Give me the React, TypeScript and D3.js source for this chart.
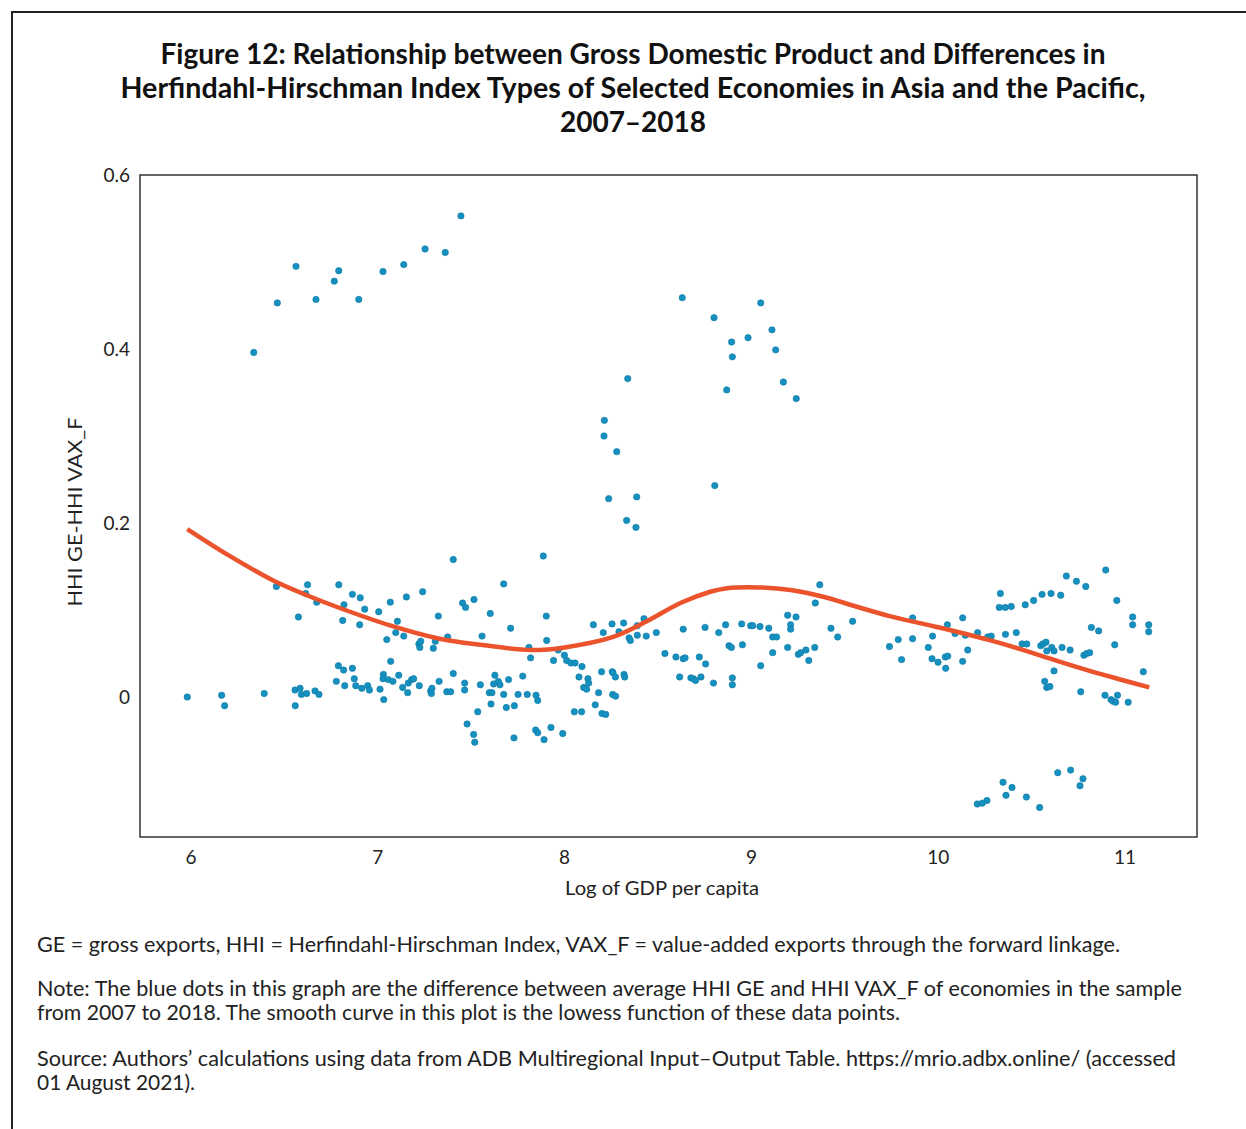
import React from "react";
import * as d3 from "d3";

const gdpLog: number[] = [
  7.445, 7.253, 7.361, 6.562, 7.139, 6.791, 7.028, 6.767, 6.669, 6.898, 6.462, 6.336,
  8.63, 9.05, 8.8, 9.11, 8.982, 8.894, 9.13, 8.898, 8.338, 9.171, 8.868, 9.24, 8.213, 8.211, 8.279, 8.804, 8.236, 8.386, 8.332, 8.382,
  5.98, 6.164, 6.18, 6.392, 6.457, 6.575, 6.624, 6.614, 6.673, 6.557, 6.584, 6.591, 6.619, 6.664, 6.685, 6.558,
  6.791, 6.819, 6.812, 6.864, 6.906, 6.93, 6.903, 7.005, 7.067, 7.153, 7.24, 7.105, 7.096, 7.139, 7.048, 7.324,
  7.22, 7.23, 7.225, 7.297, 7.308, 6.789, 6.817, 6.864, 6.778, 6.823, 6.874, 6.882, 6.914, 6.946, 6.955,
  7.069, 7.03, 7.028, 7.056, 7.081, 7.112, 7.012, 7.032, 7.133, 7.16, 7.163, 7.181, 7.192, 7.222, 7.283, 7.29, 7.287, 7.328,
  7.404, 7.886, 7.674, 7.454, 7.47, 7.515, 7.602, 7.902, 7.711, 7.558, 7.374, 7.809, 7.904, 7.818, 7.941, 7.966, 7.999,
  8.011, 8.034, 8.056, 8.093, 8.154, 8.207, 8.254, 8.316, 8.291, 8.345, 8.352, 8.389, 8.389, 8.425, 8.437, 8.491, 8.537,
  8.596, 8.635, 8.645, 8.635, 8.752, 8.721, 8.755, 8.616, 8.676, 8.689, 8.701, 8.73,
  7.404, 7.465, 7.465, 7.369, 7.39, 7.549, 7.627, 7.62, 7.645, 7.654, 7.7, 7.776, 7.597, 7.611, 7.674, 7.751, 7.8, 7.847, 7.856,
  7.606, 7.731, 7.688, 7.535, 7.478, 7.513, 7.519, 7.729, 7.845, 7.856, 7.89, 7.927, 7.99,
  8.077, 8.125, 8.129, 8.102, 8.118, 8.182, 8.198, 8.255, 8.259, 8.272, 8.318, 8.322, 8.257, 8.273, 8.164, 8.052, 8.091, 8.2, 8.22,
  9.366, 9.342, 8.825, 8.862, 8.948, 8.996, 9.007, 9.046, 9.093, 9.194, 9.239, 9.21, 9.21, 9.114, 9.135, 8.88, 8.893, 8.952,
  9.114, 9.194, 9.251, 9.264, 9.292, 9.339, 9.307, 9.426, 9.462, 9.542, 9.05, 8.797, 8.898, 8.898,
  9.739, 9.786, 9.804, 9.863, 9.863, 9.947, 9.97, 9.967, 9.999, 10.04, 10.038, 10.051, 10.049, 10.09, 10.131, 10.131, 10.158, 10.145, 10.211, 10.265,
  10.897, 10.686, 10.74, 10.79, 10.333, 10.556, 10.604, 10.656, 10.511, 10.466, 10.327, 10.359, 10.391, 10.956, 11.041, 11.041, 11.127, 11.127,
  10.82, 10.859, 10.284, 10.36, 10.418, 10.449, 10.474, 10.549, 10.561, 10.577, 10.581, 10.608, 10.62, 10.663, 10.706, 10.78, 10.795, 10.811, 10.945,
  10.62, 10.57, 10.581, 10.598, 10.763, 11.098, 10.893, 10.925, 10.937, 10.95, 10.96, 11.017,
  10.209, 10.236, 10.261, 10.347, 10.395, 10.363, 10.472, 10.543, 10.64, 10.709, 10.775, 10.759,
];

const hhiDiff: number[] = [
  0.553, 0.515, 0.511, 0.495, 0.497, 0.49, 0.489, 0.478, 0.457, 0.457, 0.453, 0.396,
  0.459, 0.453, 0.436, 0.422, 0.413, 0.408, 0.399, 0.391, 0.366, 0.362, 0.353, 0.343, 0.318, 0.3, 0.282, 0.243, 0.228, 0.23, 0.203, 0.195,
  0.0, 0.002, -0.01, 0.004, 0.127, 0.092, 0.129, 0.119, 0.109, 0.008, 0.01, 0.003, 0.004, 0.007, 0.003, -0.01,
  0.129, 0.106, 0.088, 0.118, 0.114, 0.101, 0.083, 0.098, 0.109, 0.115, 0.121, 0.087, 0.074, 0.07, 0.066, 0.093,
  0.061, 0.064, 0.057, 0.056, 0.064, 0.036, 0.031, 0.033, 0.018, 0.013, 0.021, 0.013, 0.01, 0.013, 0.008,
  0.041, 0.026, 0.021, 0.02, 0.018, 0.025, 0.009, -0.003, 0.011, 0.005, 0.016, 0.02, 0.021, 0.013, 0.007, 0.01, 0.004, 0.018,
  0.158, 0.162, 0.13, 0.108, 0.103, 0.112, 0.096, 0.093, 0.079, 0.07, 0.069, 0.057, 0.065, 0.045, 0.042, 0.054, 0.048,
  0.042, 0.039, 0.039, 0.035, 0.083, 0.074, 0.084, 0.085, 0.075, 0.068, 0.065, 0.082, 0.071, 0.09, 0.07, 0.074, 0.05,
  0.046, 0.044, 0.045, 0.078, 0.08, 0.046, 0.038, 0.023, 0.022, 0.021, 0.019, 0.023,
  0.027, 0.016, 0.008, 0.006, 0.006, 0.014, 0.025, 0.015, 0.018, 0.014, 0.02, 0.024, 0.005, 0.005, 0.003, 0.003, 0.003, 0.002, -0.004,
  -0.008, -0.01, -0.012, -0.017, -0.031, -0.043, -0.052, -0.047, -0.038, -0.041, -0.049, -0.035, -0.042,
  0.023, 0.021, 0.016, 0.011, 0.009, 0.005, 0.029, 0.029, 0.028, 0.023, 0.026, 0.023, 0.003, 0.001, -0.009, -0.017, -0.017, -0.019, -0.02,
  0.129, 0.108, 0.074, 0.083, 0.084, 0.082, 0.082, 0.081, 0.079, 0.094, 0.092, 0.083, 0.078, 0.069, 0.069, 0.059, 0.057, 0.06,
  0.051, 0.057, 0.049, 0.051, 0.054, 0.057, 0.042, 0.079, 0.069, 0.087, 0.036, 0.016, 0.022, 0.014,
  0.058, 0.066, 0.043, 0.091, 0.067, 0.057, 0.07, 0.044, 0.04, 0.033, 0.046, 0.047, 0.083, 0.073, 0.091, 0.041, 0.054, 0.071, 0.074, 0.069,
  0.146, 0.139, 0.133, 0.127, 0.119, 0.118, 0.119, 0.117, 0.111, 0.106, 0.103, 0.103, 0.104, 0.111, 0.092, 0.083, 0.083, 0.075,
  0.08, 0.076, 0.07, 0.072, 0.074, 0.061, 0.061, 0.059, 0.061, 0.063, 0.053, 0.057, 0.053, 0.057, 0.054, 0.048, 0.05, 0.051, 0.06,
  0.03, 0.018, 0.011, 0.012, 0.006, 0.029, 0.002, -0.003, -0.005, -0.006, 0.002, -0.006,
  -0.123, -0.122, -0.119, -0.098, -0.104, -0.113, -0.115, -0.127, -0.087, -0.084, -0.094, -0.102,
];

// lowess curve
const lowessX: number[] = [5.98, 6.2, 6.44, 6.62, 6.8, 7.07, 7.33, 7.55, 7.82, 8.0, 8.26, 8.44, 8.62, 8.78, 8.87, 9.03, 9.21, 9.39, 9.56, 9.74, 9.92, 10.1, 10.28, 10.44, 10.6, 10.78, 10.96, 11.13];
const lowessY: number[] = [0.193, 0.163, 0.134, 0.117, 0.102, 0.082, 0.067, 0.06, 0.054, 0.057, 0.069, 0.087, 0.108, 0.121, 0.125, 0.126, 0.123, 0.115, 0.104, 0.093, 0.084, 0.075, 0.065, 0.055, 0.044, 0.032, 0.021, 0.011];

const xTicks: number[] = [6, 7, 8, 9, 10, 11];
const yTicks: number[] = [0, 0.2, 0.4, 0.6];
const yTickLabels: string[] = ["0", "0.2", "0.4", "0.6"];

const titleLines: string[] = [
  "Figure 12: Relationship between Gross Domestic Product and Differences in",
  "Herfindahl-Hirschman Index Types of Selected Economies in Asia and the Pacific,",
  "2007–2018",
];
const titleWidths: (number | undefined)[] = [945, 1025, undefined];

const noteLines: string[][] = [
  ["GE = gross exports, HHI = Herfindahl-Hirschman Index, VAX_F = value-added exports through the forward linkage."],
  [
    "Note: The blue dots in this graph are the difference between average HHI GE and HHI VAX_F of economies in the sample",
    "from 2007 to 2018. The smooth curve in this plot is the lowess function of these data points.",
  ],
  [
    "Source: Authors’ calculations using data from ADB Multiregional Input–Output Table. https://mrio.adbx.online/ (accessed",
    "01 August 2021).",
  ],
];
const noteWidths: (number | undefined)[][] = [[1083], [1145, 863], [1139, 158]];

const W = 1246;
const H = 1129;
const plot = { left: 140, right: 1197, top: 175, bottom: 837 };
const FONT = "Lato, 'Noto Sans', sans-serif";

export default function App() {
  const x = d3.scaleLinear().domain([6, 11]).range([191, 1125]);
  const y = d3.scaleLinear().domain([0, 0.6]).range([697, 175]);
  const pts = gdpLog.map((g, i) => [g, hhiDiff[i]] as [number, number]);
  const curvePts = lowessX.map((g, i) => [g, lowessY[i]] as [number, number]);
  const line = d3
    .line<[number, number]>()
    .x((d) => x(d[0]))
    .y((d) => y(d[1]))
    .curve(d3.curveCatmullRom.alpha(0.5));

  const noteStarts = [952, 996, 1066];
  return (
    <div style={{ position: "absolute", left: 0, top: 0 }}>
      <svg width={W} height={H} style={{ display: "block", background: "#fff" }}>
        <path d={`M12,${H} V12 H${W}`} fill="none" stroke="#222" strokeWidth={2} />
        {titleLines.map((t, i) => (
          <text
            key={i}
            x={633}
            y={64 + i * 34}
            textAnchor="middle"
            fontFamily={FONT}
            fontWeight={700}
            fontSize={28}
            fill="#111"
            textLength={titleWidths[i]}
            lengthAdjust={titleWidths[i] ? "spacingAndGlyphs" : undefined}
          >
            {t}
          </text>
        ))}
        <rect
          x={plot.left}
          y={plot.top}
          width={plot.right - plot.left}
          height={plot.bottom - plot.top}
          fill="none"
          stroke="#333"
          strokeWidth={1.5}
        />
        {yTicks.map((t, i) => (
          <text
            key={t}
            x={130}
            y={y(t)}
            dy="0.35em"
            textAnchor="end"
            fontFamily={FONT}
            fontSize={19}
            fill="#222"
          >
            {yTickLabels[i]}
          </text>
        ))}
        {xTicks.map((t) => (
          <text key={t} x={x(t)} y={864} textAnchor="middle" fontFamily={FONT} fontSize={19} fill="#222">
            {t}
          </text>
        ))}
        <text
          x={662}
          y={895}
          textAnchor="middle"
          fontFamily={FONT}
          fontSize={20}
          fill="#222"
          textLength={194}
          lengthAdjust="spacingAndGlyphs"
        >
          Log of GDP per capita
        </text>
        <text
          transform="translate(82,512) rotate(-90)"
          textAnchor="middle"
          fontFamily={FONT}
          fontSize={20}
          fill="#222"
          textLength={189}
          lengthAdjust="spacingAndGlyphs"
        >
          HHI GE-HHI VAX_F
        </text>
        <g>
          {pts.map((p, i) => (
            <circle key={i} cx={x(p[0])} cy={y(p[1])} r={3.2} fill="#1590bf" stroke="#0f7aa6" strokeWidth={0.6} />
          ))}
        </g>
        <path d={line(curvePts) || ""} fill="none" stroke="#ea532b" strokeWidth={4.5} strokeLinecap="butt" />
        {noteLines.map((para, pi) =>
          para.map((l, li) => (
            <text
              key={`${pi}-${li}`}
              x={37}
              y={noteStarts[pi] + li * 24}
              fontFamily={FONT}
              fontSize={21}
              fill="#222"
              textLength={noteWidths[pi][li]}
              lengthAdjust="spacingAndGlyphs"
            >
              {l}
            </text>
          ))
        )}
      </svg>
    </div>
  );
}
